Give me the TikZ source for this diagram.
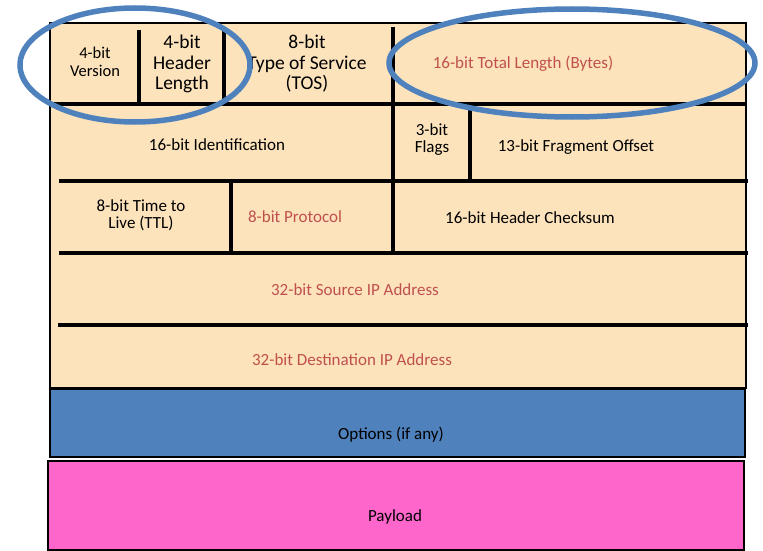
\documentclass[tikz,border=0pt]{standalone}
\usepackage{fontspec}
\setmainfont{Carlito}
\definecolor{beige}{HTML}{FCE3BC}
\definecolor{redtxt}{HTML}{C0504D}
\definecolor{optblue}{HTML}{4F81BD}
\definecolor{payload}{HTML}{FF66CC}
\definecolor{ringblue}{HTML}{4F81BD}
\begin{document}
\begin{tikzpicture}[x=1pt,y=-1pt,
  lbl/.style={font=\fontsize{17}{17}\selectfont, align=center, inner sep=0pt, text=black},
  biglbl/.style={font=\fontsize{19.5}{20.5}\selectfont, align=center, inner sep=0pt, text=black},
  smalllbl/.style={font=\fontsize{16.5}{17.5}\selectfont, align=center, inner sep=0pt, text=black},
  redlbl/.style={lbl, text=redtxt},
  hln/.style={line width=4.5pt},
  vln/.style={line width=4pt},
  frame/.style={draw=black, line width=1.5pt},
  ring/.style={draw=ringblue, line width=5.5pt}]
\useasboundingbox (0,0) rectangle (763,551);
% header block
\fill[beige, frame] (50,23) rectangle (746,388);
\draw[hln] (50,104) -- (746,104);
\draw[hln] (59,181) -- (748,181);
\draw[hln] (59,253) -- (748,253);
\draw[hln] (58,325) -- (748,325);
\draw[vln] (139,30) -- (139,104);
\draw[vln] (224,27) -- (224,104);
\draw[vln] (393,27) -- (393,251);
\draw[vln] (470,106) -- (470,181);
\draw[vln] (231,181) -- (231,253);
% options and payload
\fill[optblue, frame] (50,389) rectangle (745,457);
\fill[payload, draw=black, line width=2pt] (48,461) rectangle (744,550);
% labels
\node[smalllbl] (ver) at (95,62) {4-bit\\Version};
\node[biglbl] (hlen) at (182,64) {4-bit\\Header\\Length};
\node[biglbl] (tos) at (307,64) {8-bit\\Type of Service\\(TOS)};
\node[redlbl] (tlen) at (523,64) {16-bit Total Length (Bytes)};
\node[lbl] (ident) at (217,145) {16-bit Identification};
\node[lbl] (flags) at (432,140) {3-bit\\Flags};
\node[lbl] (frag) at (576,147) {13-bit Fragment Offset};
\node[lbl] (ttl) at (141,215) {8-bit Time to\\Live (TTL)};
\node[redlbl] (proto) at (295,217) {8-bit Protocol};
\node[lbl] (csum) at (530,218) {16-bit Header Checksum};
\node[redlbl] (src) at (355,290) {32-bit Source IP Address};
\node[redlbl] (dst) at (352,360) {32-bit Destination IP Address};
\node[lbl] (opt) at (391,435) {Options (if any)};
\node[lbl] (pay) at (395,517) {Payload};
% highlight rings
\draw[ring] (135,65) ellipse [x radius=115pt, y radius=57pt];
\draw[ring] (572,63) ellipse [x radius=183pt, y radius=54pt];
\end{tikzpicture}
\end{document}
